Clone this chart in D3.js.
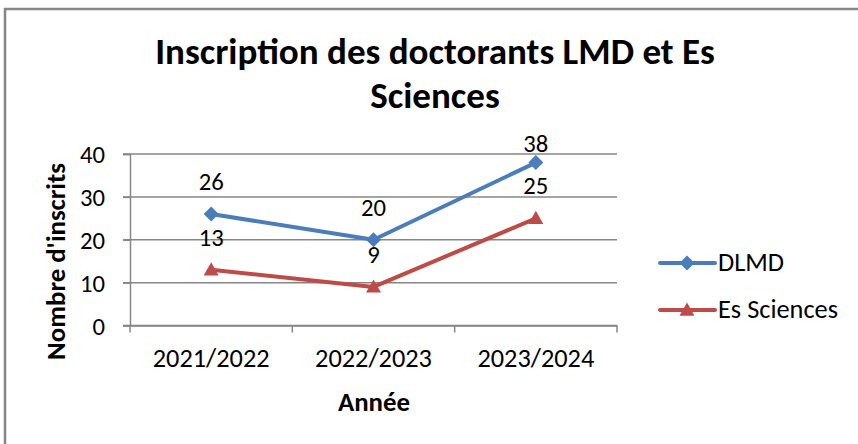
<!DOCTYPE html>
<html><head><meta charset="utf-8">
<script src="https://cdn.jsdelivr.net/npm/d3@7"></script>
<style>
html,body{margin:0;padding:0;background:#fff;}
text{font-family:Carlito,Calibri,Lato,"Open Sans",sans-serif;fill:#000;}
</style></head>
<body>
<svg id="chart" width="858" height="444"></svg>
<script>
const categories = ["2021/2022", "2022/2023", "2023/2024"];
const dlmd = [26, 20, 38];
const esSciences = [13, 9, 25];
const yTicks = [0, 10, 20, 30, 40];
const seriesNames = ["DLMD", "Es Sciences"];
const titleLines = ["Inscription des doctorants LMD et Es", "Sciences"];

const series = [
  {name: seriesNames[0], values: dlmd, color: "#4A7EBB", marker: "diamond"},
  {name: seriesNames[1], values: esSciences, color: "#BE4B48", marker: "triangle"}
];

const svg = d3.select("#chart");
const grid = "#868686";

// size a text so its rendered width matches the reference width
function fitSize(text, weight, targetWidth){
  const t = svg.append("text").style("font-size","100px").style("font-weight",weight).text(text);
  const w = t.node().getComputedTextLength();
  t.remove();
  return 100 * targetWidth / w;
}

// outer frame (top and left edges visible)
svg.append("line").attr("x1",4).attr("x2",858).attr("y1",9).attr("y2",9).attr("stroke",grid).attr("stroke-width",2.5);
svg.append("line").attr("x1",5).attr("x2",5).attr("y1",8).attr("y2",444).attr("stroke",grid).attr("stroke-width",2.5);

const plot = {left:130, right:617, top:154, bottom:325.5};
const x = d3.scaleBand().domain(categories).range([plot.left, plot.right]).padding(0);
const y = d3.scaleLinear().domain([0,40]).range([plot.bottom, plot.top]);

// gridlines
svg.append("g").selectAll("line").data(yTicks).join("line")
  .attr("x1", plot.left-7).attr("x2", plot.right)
  .attr("y1", d=>y(d)).attr("y2", d=>y(d))
  .attr("stroke", grid).attr("stroke-width",1.5);

// y axis
const yFont = fitSize("40", "normal", 25);
const yAxis = svg.append("g").attr("transform",`translate(${plot.left},0)`)
  .call(d3.axisLeft(y).tickValues(yTicks).tickSize(7).tickPadding(18).tickFormat(d3.format("d")));
yAxis.select(".domain").attr("stroke",grid).attr("stroke-width",1.5);
yAxis.selectAll(".tick line").attr("stroke",grid).attr("stroke-width",1.5);
yAxis.selectAll(".tick text").style("font-size",yFont+"px").attr("fill","#000").attr("dy","0.35em");

// x axis
const xFont = fitSize(categories[0], "normal", 117);
const xAxis = svg.append("g").attr("transform",`translate(0,${plot.bottom})`)
  .call(d3.axisBottom(x).tickSize(0).tickPadding(0));
xAxis.select(".domain").attr("stroke",grid).attr("stroke-width",1.5);
xAxis.selectAll(".tick text").style("font-size",xFont+"px").attr("fill","#000").attr("dy",null).attr("y",41);
// category separator ticks
const bounds = [plot.left, ...categories.map(c=>x(c)+x.bandwidth())];
svg.append("g").selectAll("line").data(bounds).join("line")
  .attr("x1",d=>d).attr("x2",d=>d).attr("y1",plot.bottom).attr("y2",plot.bottom+7)
  .attr("stroke",grid).attr("stroke-width",1.5);

const cx = c => x(c) + x.bandwidth()/2;
const line = d3.line().x((d,i)=>cx(categories[i])).y(d=>y(d));

function drawMarker(g, type, color, px, py, s){
  if(type==="diamond"){
    g.append("path").attr("d",`M${px},${py-s}L${px+s},${py}L${px},${py+s}L${px-s},${py}Z`).attr("fill",color);
  } else {
    g.append("path").attr("d",`M${px},${py-s}L${px+s},${py+s*0.75}L${px-s},${py+s*0.75}Z`).attr("fill",color);
  }
}

series.forEach(s=>{
  svg.append("path").datum(s.values).attr("d",line).attr("fill","none")
    .attr("stroke",s.color).attr("stroke-width",4).attr("stroke-linejoin","round");
  const g = svg.append("g");
  s.values.forEach((v,i)=>drawMarker(g, s.marker, s.color, cx(categories[i]), y(v), 7.5));
});
// data labels (kept from rising above the plot area top, as in the reference)
const lblFont = fitSize("26", "normal", 25);
series.forEach(s=>{
  svg.append("g").selectAll("text").data(s.values).join("text")
    .attr("x",(d,i)=>cx(categories[i])).attr("y",d=>Math.max(y(d)-24, plot.top-2))
    .attr("text-anchor","middle").style("font-size",lblFont+"px").text(d=>d);
});

// title
const tFont = fitSize(titleLines[0], "bold", 560);
svg.append("g").selectAll("text").data(titleLines).join("text")
  .attr("x",435).attr("y",(d,i)=>64+i*44).attr("text-anchor","middle")
  .style("font-size",tFont+"px").style("font-weight","bold").text(d=>d);

// axis titles
const axFont = fitSize("Nombre d'inscrits", "bold", 197);
svg.append("text").attr("x",374).attr("y",411).attr("text-anchor","middle")
  .style("font-size",axFont+"px").style("font-weight","bold").text("Année");
svg.append("text").attr("transform","translate(65,261.5) rotate(-90)").attr("text-anchor","middle")
  .style("font-size",axFont+"px").style("font-weight","bold").text("Nombre d'inscrits");

// legend
const legFont = fitSize(seriesNames[1], "normal", 120);
series.forEach((s,i)=>{
  const ly = 263 + i*47;
  const g = svg.append("g");
  g.append("line").attr("x1",660).attr("x2",715).attr("y1",ly).attr("y2",ly)
    .attr("stroke",s.color).attr("stroke-width",4).attr("stroke-linecap","round");
  drawMarker(g, s.marker, s.color, 687, ly, 7.5);
  g.append("text").attr("x",718).attr("y",ly+8).style("font-size",legFont+"px").text(s.name);
});
</script>
</body></html>
